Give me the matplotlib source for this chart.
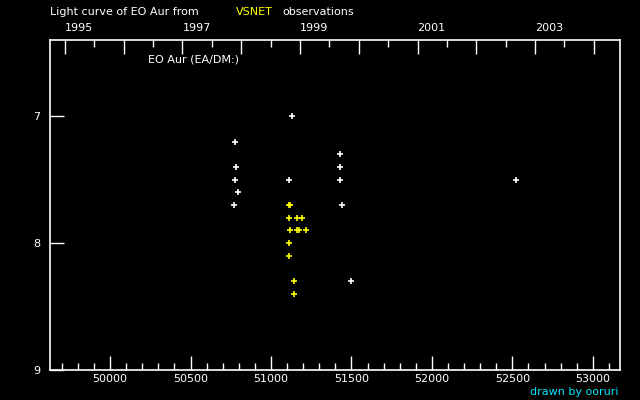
import matplotlib
matplotlib.use('Agg')
import matplotlib.pyplot as plt
from matplotlib.ticker import MultipleLocator

# visual observations (JD-2400000, visual mag)
jd_other = [51131, 50777, 51429, 50783, 51429, 50777, 51113, 51429, 50796, 50771, 51442, 51498, 52521]
mag_other = [7.0, 7.2, 7.3, 7.4, 7.4, 7.5, 7.5, 7.5, 7.6, 7.7, 7.7, 8.3, 7.5]

jd_vsnet = [51113, 51119, 51113, 51162, 51193, 51119, 51162, 51175, 51218, 51113, 51113, 51144, 51144]
mag_vsnet = [7.7, 7.7, 7.8, 7.8, 7.8, 7.9, 7.9, 7.9, 7.9, 8.0, 8.1, 8.3, 8.4]

# year starts (JD-2400000)
year_jd = [49718.5, 50083.5, 50449.5, 50814.5, 51179.5, 51544.5, 51910.5, 52275.5, 52640.5, 53005.5]
year_lab = ['1995', '', '1997', '', '1999', '', '2001', '', '2003', '']

fs = 8
fig = plt.figure(figsize=(6.4, 4.0), dpi=100, facecolor='black')
ax = fig.add_axes([0.078, 0.075, 0.891, 0.825], facecolor='black')

ax.plot(jd_other, mag_other, '+', color='white', ms=4, mew=1.2)
ax.plot(jd_vsnet, mag_vsnet, '+', color='yellow', ms=4, mew=1.2)

ax.set_xlim(49626, 53170)
ax.set_ylim(9, 6.4)
for s in ax.spines.values():
    s.set_color('white')
    s.set_linewidth(1.2)

ax.set_yticks([7, 8, 9])
ax.set_yticklabels(['7', '8', '9'])
ax.xaxis.set_major_locator(MultipleLocator(500))
ax.xaxis.set_minor_locator(MultipleLocator(100))
ax.tick_params(axis='both', which='major', direction='in', length=10, width=1,
               colors='white', labelsize=fs, top=False, right=False)
ax.tick_params(axis='x', which='minor', direction='in', length=5, width=1, colors='white')
ax.tick_params(axis='x', pad=3)
ax.tick_params(axis='y', pad=7)

# top axis with calendar years
ax2 = ax.twiny()
ax2.set_xlim(ax.get_xlim())
ax2.set_xticks(year_jd)
ax2.set_xticklabels(year_lab)
ax2.set_xticks([y + 182.6 for y in year_jd[:-1]], minor=True)
ax2.tick_params(axis='x', which='major', direction='in', length=10, width=1,
                colors='white', labelsize=fs, pad=5)
ax2.tick_params(axis='x', which='minor', direction='in', length=5, width=1, colors='white')
for lab in ax2.get_xticklabels():
    lab.set_ha('left')
for s in ax2.spines.values():
    s.set_visible(False)

fig.text(50/640, 1 - 12/400, 'Light curve of EO Aur from', color='white', fontsize=fs, va='center')
fig.text(236/640, 1 - 12/400, 'VSNET', color='yellow', fontsize=fs, va='center')
fig.text(282/640, 1 - 12/400, 'observations', color='white', fontsize=fs, va='center')
fig.text(148/640, 1 - 60/400, 'EO Aur (EA/DM:)', color='white', fontsize=fs, va='center')
fig.text(618/640, 1 - 392/400, 'drawn by ooruri', color='#00e5ff', fontsize=fs, va='center', ha='right')

fig.savefig('out.png', dpi=100, facecolor='black')
